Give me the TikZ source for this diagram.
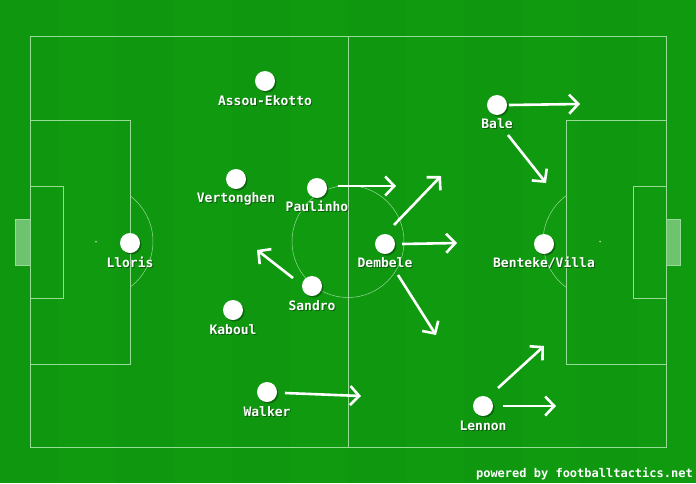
\documentclass[tikz,border=0pt]{standalone}
\usepackage{fontspec}
\setmonofont{DejaVu Sans Mono}
\usetikzlibrary{arrows.meta}
\definecolor{grass}{RGB}{16,154,16}
\definecolor{grassdk}{RGB}{12,140,12}
\definecolor{pitchline}{RGB}{150,220,150}
\definecolor{goalfill}{RGB}{110,195,110}
\definecolor{shadowc}{RGB}{10,70,10}
\tikzset{
  pline/.style={draw=pitchline, line width=0.8pt},
  thinline/.style={draw=pitchline, line width=0.5pt},
  player/.style={circle, fill=white, minimum size=20pt, inner sep=0pt},
  pshadow/.style={circle, fill=shadowc, opacity=0.6, minimum size=20pt, inner sep=0pt},
  plabel/.style={text=white, font=\ttfamily\bfseries\fontsize{13}{13}\selectfont, anchor=base, inner sep=0pt},
  move/.style={draw=white, line width=2.6pt, -{Straight Barb[length=9pt,width=19pt,line width=2.6pt]}},
}
\newcommand{\player}[5]{%
  % name, x, y, label, label baseline y
  \node[pshadow] at (#2+1.5,#3+1.5) {};
  \node[player] (#1) at (#2,#3) {};
  \node[plabel, text=shadowc, opacity=0.7] at (#2+1,#5+1) {#4};
  \node[plabel] (#1-lab) at (#2,#5) {#4};
}
\begin{document}
\begin{tikzpicture}[x=1pt,y=-1pt]
\useasboundingbox (0,0) rectangle (696,483);
\fill[grass] (0,0) rectangle (696,483);
% subtle stripes
\foreach \i in {0,2,4,6,8,10} {
  \fill[grassdk, opacity=0.15] ({\i*58},0) rectangle ({\i*58+58},483);
}
% goals
\fill[goalfill] (15,219) rectangle (30,265);
\draw[pline] (15,219) rectangle (30,265);
\fill[goalfill] (666,219) rectangle (680,265);
\draw[pline] (666,219) rectangle (680,265);
% pitch outline
\draw[pline] (30,36) rectangle (666,447);
\draw[pline] (348,36) -- (348,447);
\draw[thinline] (348,241.5) circle (56);
% left penalty area
\draw[pline] (30,120) rectangle (130,364);
\draw[pline] (30,186) rectangle (63,298);
\fill[pitchline] (96,241.5) circle (1);
% right penalty area
\draw[pline] (566,120) rectangle (666,364);
\draw[pline] (633,186) rectangle (666,298);
\fill[pitchline] (600,241.5) circle (1);
% penalty arcs
\begin{scope}
\clip (130,150) rectangle (170,330);
\draw[thinline] (96,241.5) circle (57);
\end{scope}
\begin{scope}
\clip (526,150) rectangle (566,330);
\draw[thinline] (600,241.5) circle (57);
\end{scope}
% players
\player{assou}{265}{81}{Assou-Ekotto}{105}
\player{verton}{236}{179}{Vertonghen}{202}
\player{paul}{317}{188}{Paulinho}{211}
\player{lloris}{130}{243}{Lloris}{267}
\player{sandro}{312}{286}{Sandro}{310}
\player{kaboul}{233}{310}{Kaboul}{334}
\player{walker}{267}{392}{Walker}{416}
\player{bale}{497}{105}{Bale}{128}
\player{dembele}{385}{244}{Dembele}{267}
\player{benteke}{544}{244}{Benteke/Villa}{267}
\player{lennon}{483}{406}{Lennon}{430}
% arrow end points
\coordinate (paul-s) at (338,186);   \coordinate (paul-e) at (396,186);
\coordinate (bale-s) at (509,105);   \coordinate (bale-e) at (580,104);
\coordinate (bale2-s) at (508,135);  \coordinate (bale2-e) at (546,183);
\coordinate (dem1-s) at (394,225);   \coordinate (dem1-e) at (441,176);
\coordinate (dem2-s) at (402,244);   \coordinate (dem2-e) at (457,243);
\coordinate (dem3-s) at (398,275);   \coordinate (dem3-e) at (436,335);
\coordinate (san-s) at (293,278);    \coordinate (san-e) at (257,250);
\coordinate (walk-s) at (285,393);   \coordinate (walk-e) at (361,396);
\coordinate (len1-s) at (498,388);   \coordinate (len1-e) at (544,346);
\coordinate (len2-s) at (503,406);   \coordinate (len2-e) at (556,406);
\foreach \a in {paul,bale,bale2,dem1,dem2,dem3,san,walk,len1,len2} {
  \draw[move] (\a-s) -- (\a-e);
}
% footer
\node[plabel, anchor=base east, font=\ttfamily\bfseries\fontsize{12}{12}\selectfont] (footer) at (693,477) {powered by footballtactics.net};
\end{tikzpicture}
\end{document}
